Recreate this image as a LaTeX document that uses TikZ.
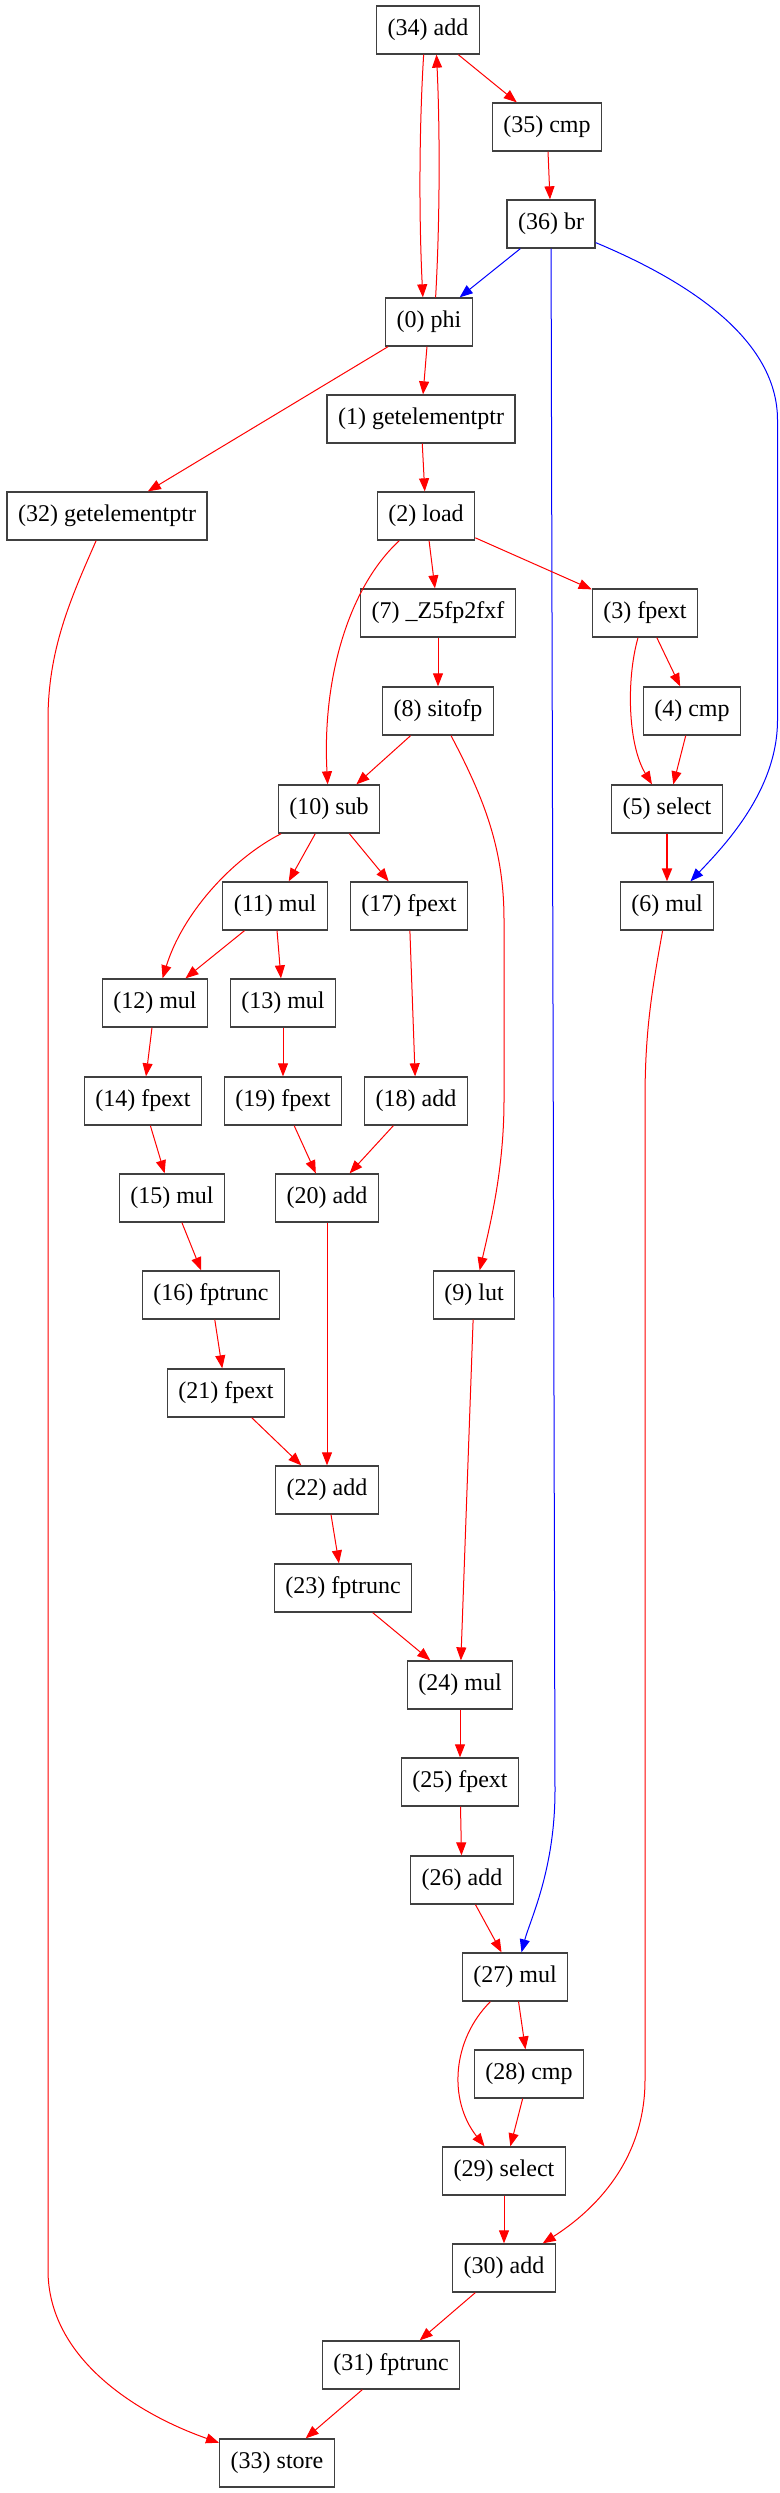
\documentclass[tikz,border=0pt]{standalone}
\usepackage{fontspec}
\setmainfont{Liberation Serif}
\usetikzlibrary{arrows.meta}

\begin{document}
\begin{tikzpicture}[x=0.75pt,y=-0.75pt]

      %boxes and edges
      \tikzset{
      op/.style={draw=black!75, line width=1pt, minimum height=36pt,
        inner xsep=8.25pt, inner ysep=0pt, font=\fontsize{18}{20}\selectfont},
      dep/.style={draw=red, line width=0.75pt, -{Triangle[length=9.75pt,width=7.5pt]}},
      ctl/.style={dep, draw=blue},
      }

      \useasboundingbox (0,0) rectangle (779,2493);

      %loop head
      \node[op] (n34) at (428,30) {(34) add};
      \node[op] (n35) at (547,127) {(35) cmp};
      \node[op] (n36) at (551,224) {(36) br};
      \node[op] (n0) at (429,322) {(0) phi};
      \node[op] (n1) at (421,419) {(1) getelementptr};
      \node[op] (n32) at (107,516) {(32) getelementptr};
      \node[op] (n2) at (426,516) {(2) load};

      %right branch
      \node[op] (n3) at (645,613) {(3) fpext};
      \node[op] (n4) at (692,711) {(4) cmp};
      \node[op] (n5) at (667,809) {(5) select};
      \node[op] (n6) at (667,906) {(6) mul};

      %middle
      \node[op] (n7) at (438,613) {(7) \_Z5fp2fxf};
      \node[op] (n8) at (438,711) {(8) sitofp};
      \node[op] (n10) at (329,809) {(10) sub};
      \node[op] (n11) at (275,906) {(11) mul};
      \node[op] (n17) at (409,906) {(17) fpext};
      \node[op] (n12) at (155,1003) {(12) mul};
      \node[op] (n13) at (283,1003) {(13) mul};
      \node[op] (n14) at (143,1101) {(14) fpext};
      \node[op] (n19) at (283,1101) {(19) fpext};
      \node[op] (n18) at (416,1101) {(18) add};
      \node[op] (n15) at (172,1198) {(15) mul};
      \node[op] (n20) at (327,1198) {(20) add};
      \node[op] (n16) at (211,1295) {(16) fptrunc};
      \node[op] (n9) at (474,1295) {(9) lut};
      \node[op] (n21) at (226,1393) {(21) fpext};
      \node[op] (n22) at (327,1490) {(22) add};
      \node[op] (n23) at (343,1588) {(23) fptrunc};

      %tail
      \node[op] (n24) at (460,1685) {(24) mul};
      \node[op] (n25) at (460,1782) {(25) fpext};
      \node[op] (n26) at (462,1880) {(26) add};
      \node[op] (n27) at (515,1977) {(27) mul};
      \node[op] (n28) at (529,2074) {(28) cmp};
      \node[op] (n29) at (504,2171) {(29) select};
      \node[op] (n30) at (504,2268) {(30) add};
      \node[op] (n31) at (391,2365) {(31) fptrunc};
      \node[op] (n33) at (277,2463) {(33) store};

      %back edge pair
      \draw[dep] (n34.-100) .. controls (419,130) and (419,220) .. (n0.104);
      \draw[dep] (n0.75) .. controls (440,220) and (440,130) .. (n34.-71);
      \draw[dep] (n34) -- (n35);
      \draw[dep] (n35) -- (n36);

      %branch edges
      \draw[ctl] (n36) -- (n0);
      \draw[ctl] (n36) -- (555,1790) .. controls (555,1870) and (530,1920) .. (n27);
      \draw[ctl] (n36) .. controls (690,282) and (777.5,340) .. (777.5,420)
        -- (777.5,720) .. controls (777.5,790) and (725,845) .. (n6);

      %data edges
      \draw[dep] (n0) -- (n1);
      \draw[dep] (n0) -- (n32);
      \draw[dep] (n1) -- (n2);
      \draw[dep] (n2) -- (n7);
      \draw[dep] (n2) -- (n3);
      \draw[dep] (n2) .. controls (348,588) and (322,680) .. (n10);
      \draw[dep] (n32) .. controls (70,600) and (48,650) .. (48,720)
        -- (48,2270) .. controls (48,2360) and (140,2415) .. (n33);
      \draw[dep] (n3) -- (n4);
      \draw[dep] (n3) .. controls (626,680) and (628,745) .. (n5);
      \draw[dep] (n4) -- (n5);
      \draw[dep, line width=1.5pt] (n5) -- (n6);
      \draw[dep] (n7) -- (n8);
      \draw[dep] (n8) -- (n10);
      \draw[dep] (n8) .. controls (485,800) and (504,850) .. (504,920)
        -- (504,1100) .. controls (504,1170) and (490,1225) .. (n9);
      \draw[dep] (n10) -- (n11);
      \draw[dep] (n10) -- (n17);
      \draw[dep] (n10) .. controls (230,860) and (182,915) .. (n12);
      \draw[dep] (n11) -- (n12);
      \draw[dep] (n11) -- (n13);
      \draw[dep] (n17) -- (n18);
      \draw[dep] (n6) .. controls (652,990) and (645,1030) .. (645,1100)
        -- (645,2080) .. controls (645,2160) and (595,2210) .. (n30);
      \draw[dep] (n12) -- (n14);
      \draw[dep] (n13) -- (n19);
      \draw[dep] (n14) -- (n15);
      \draw[dep] (n19) -- (n20);
      \draw[dep] (n18) -- (n20);
      \draw[dep] (n15) -- (n16);
      \draw[dep] (n20) -- (n22);
      \draw[dep] (n16) -- (n21);
      \draw[dep] (n21) -- (n22);
      \draw[dep] (n9) -- (n24);
      \draw[dep] (n22) -- (n23);
      \draw[dep] (n23) -- (n24);
      \draw[dep] (n24) -- (n25);
      \draw[dep] (n25) -- (n26);
      \draw[dep] (n26) -- (n27);
      \draw[dep] (n27) -- (n28);
      \draw[dep] (n27) .. controls (452,2040) and (448,2100) .. (n29);
      \draw[dep] (n28) -- (n29);
      \draw[dep] (n29) -- (n30);
      \draw[dep] (n30) -- (n31);
      \draw[dep] (n31) -- (n33);
    \end{tikzpicture}
\end{document}
